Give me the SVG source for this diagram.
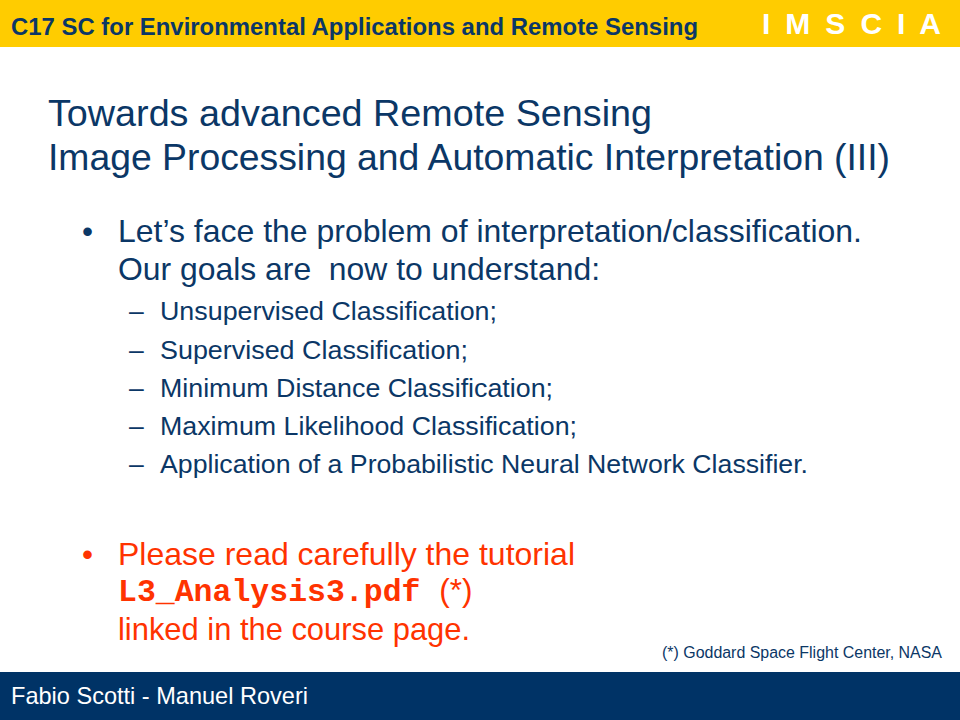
<svg xmlns="http://www.w3.org/2000/svg" width="960" height="720" viewBox="0 0 960 720">
<style>
  .sans { font-family: "Liberation Sans", Arial, sans-serif; }
  .blue { fill: #0B3766; }
  .red { fill: #FF3300; }
  .title { font-size: 37px; }
  .b1 { font-size: 31.5px; }
  .b2 { font-size: 26.5px; }
  .mono { font-family: "Liberation Mono", "Courier New", monospace; font-weight: bold; }
</style>
<rect x="0" y="0" width="960" height="720" fill="#FFFFFF"/>
<g id="header">
  <rect x="0" y="0" width="960" height="47" fill="#FFCC00"/>
  <text class="sans blue" x="11" y="35" font-size="23.8" font-weight="bold" textLength="687" lengthAdjust="spacingAndGlyphs">C17 SC for Environmental Applications and Remote Sensing</text>
  <text class="sans" x="762" y="34" font-size="30" font-weight="bold" fill="#FFFFFF" textLength="179" lengthAdjust="spacing">I M S C I A</text>
</g>
<g id="title">
  <text class="sans blue title" x="48" y="126" textLength="604" lengthAdjust="spacingAndGlyphs">Towards advanced Remote Sensing</text>
  <text class="sans blue title" x="48" y="170" textLength="842" lengthAdjust="spacingAndGlyphs">Image Processing and Automatic Interpretation (III)</text>
</g>
<g id="goals">
  <text class="sans blue b1" x="82" y="242">•</text>
  <text class="sans blue b1" x="118" y="242" textLength="744" lengthAdjust="spacingAndGlyphs">Let’s face the problem of interpretation/classification.</text>
  <text class="sans blue b1" x="118" y="280" xml:space="preserve" textLength="482" lengthAdjust="spacingAndGlyphs">Our goals are  now to understand:</text>
  <g id="subitems">
    <text class="sans blue b2" x="129" y="320">–</text>
    <text class="sans blue b2" x="160" y="320" textLength="337" lengthAdjust="spacingAndGlyphs">Unsupervised Classification;</text>
    <text class="sans blue b2" x="129" y="358.5">–</text>
    <text class="sans blue b2" x="160" y="358.5" textLength="308" lengthAdjust="spacingAndGlyphs">Supervised Classification;</text>
    <text class="sans blue b2" x="129" y="397">–</text>
    <text class="sans blue b2" x="160" y="397" textLength="393" lengthAdjust="spacingAndGlyphs">Minimum Distance Classification;</text>
    <text class="sans blue b2" x="129" y="435">–</text>
    <text class="sans blue b2" x="160" y="435" textLength="417" lengthAdjust="spacingAndGlyphs">Maximum Likelihood Classification;</text>
    <text class="sans blue b2" x="129" y="473">–</text>
    <text class="sans blue b2" x="160" y="473" textLength="648" lengthAdjust="spacingAndGlyphs">Application of a Probabilistic Neural Network Classifier.</text>
  </g>
</g>
<g id="tutorial">
  <text class="sans red b1" x="82" y="565">•</text>
  <text class="sans red b1" x="118" y="565" textLength="457" lengthAdjust="spacingAndGlyphs">Please read carefully the tutorial</text>
  <text class="red" x="118" y="601"><tspan class="mono" font-size="31.5">L3_Analysis3.pdf </tspan><tspan class="sans" font-size="31.5">(*)</tspan></text>
  <text class="sans red b1" x="118" y="640" textLength="352" lengthAdjust="spacingAndGlyphs">linked in the course page.</text>
</g>
<g id="footnote">
  <text class="sans blue" x="662" y="658" font-size="16" textLength="280" lengthAdjust="spacingAndGlyphs">(*) Goddard Space Flight Center, NASA</text>
</g>
<g id="footer">
  <rect x="0" y="672" width="960" height="48" fill="#003366"/>
  <text class="sans" x="11" y="704" font-size="24" fill="#FFFFFF" textLength="297" lengthAdjust="spacingAndGlyphs">Fabio Scotti - Manuel Roveri</text>
</g>
</svg>
